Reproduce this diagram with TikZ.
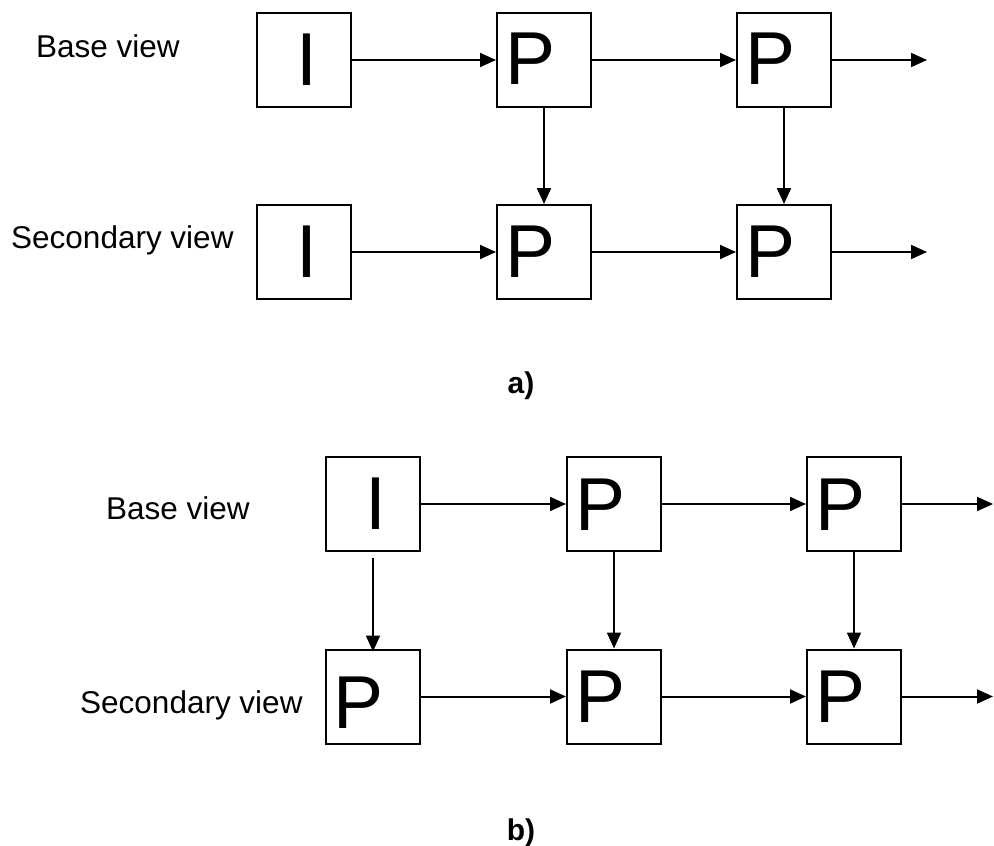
\documentclass[tikz,border=0pt]{standalone}
\usepackage{fontspec}
\setmainfont{Liberation Sans}
\usetikzlibrary{arrows.meta}
\begin{document}
\begin{tikzpicture}[x=1pt,y=-1pt,
  frame/.style={draw=black,line width=2pt,minimum size=94pt,inner sep=0pt,fill=white},
  conn/.style={line width=2pt,-{Triangle[length=16pt,width=14pt]}},
  big/.style={font=\fontsize{75}{75}\selectfont,inner sep=0pt},
  lab/.style={font=\fontsize{31.5}{32}\selectfont,inner sep=0pt,anchor=base west},
  captext/.style={font=\fontsize{30}{30}\selectfont\bfseries,inner sep=0pt,anchor=base}]
\useasboundingbox (0,0) rectangle (994,846);
% ---------- a) ----------
\node[frame] (a11) at (304,60) {};
\node[frame] (a12) at (544,60) {};
\node[frame] (a13) at (784,60) {};
\node[frame] (a21) at (304,252) {};
\node[frame] (a22) at (544,252) {};
\node[frame] (a23) at (784,252) {};
\node[big,anchor=base] (ta11) at ([shift={(2.5,25)}]a11.center) {I};
\node[big,anchor=base west] (ta12) at ([shift={(-39,24.5)}]a12.center) {P};
\node[big,anchor=base west] (ta13) at ([shift={(-39,24.5)}]a13.center) {P};
\node[big,anchor=base] (ta21) at ([shift={(2.5,25)}]a21.center) {I};
\node[big,anchor=base west] (ta22) at ([shift={(-39,25)}]a22.center) {P};
\node[big,anchor=base west] (ta23) at ([shift={(-39,25)}]a23.center) {P};
\coordinate (ao1) at (927,60);
\coordinate (ao2) at (927,252);
\draw[conn] (a11.east) -- (a12.west);
\draw[conn] (a12.east) -- (a13.west);
\draw[conn] (a13.east) -- (ao1);
\draw[conn] (a21.east) -- (a22.west);
\draw[conn] (a22.east) -- (a23.west);
\draw[conn] (a23.east) -- (ao2);
\draw[conn] (a12.south) -- (a22.north);
\draw[conn] (a13.south) -- (a23.north);
\node[lab] (la1) at (36,57) {Base view};
\node[lab] (la2) at (11,248) {Secondary view};
\node[captext] (capa) at (521,393) {a)};
% ---------- b) ----------
\node[frame] (b11) at (373,504) {};
\node[frame] (b12) at (614,504) {};
\node[frame] (b13) at (854,504) {};
\node[frame] (b21) at (373,696.5) {};
\node[frame] (b22) at (614,696.5) {};
\node[frame] (b23) at (854,696.5) {};
\node[big,anchor=base] (tb11) at ([shift={(3,25)}]b11.center) {I};
\node[big,anchor=base west] (tb12) at ([shift={(-39,26)}]b12.center) {P};
\node[big,anchor=base west] (tb13) at ([shift={(-39,26)}]b13.center) {P};
\node[big,anchor=base west] (tb21) at ([shift={(-40,31.5)}]b21.center) {P};
\node[big,anchor=base west] (tb22) at ([shift={(-39,26)}]b22.center) {P};
\node[big,anchor=base west] (tb23) at ([shift={(-39,26)}]b23.center) {P};
\coordinate (bo1) at (993,504);
\coordinate (bo2) at (993,696.5);
\draw[conn] (b11.east) -- (b12.west);
\draw[conn] (b12.east) -- (b13.west);
\draw[conn] (b13.east) -- (bo1);
\draw[conn] (b21.east) -- (b22.west);
\draw[conn] (b22.east) -- (b23.west);
\draw[conn] (b23.east) -- (bo2);
\draw[conn] ([yshift=-6pt]b11.south) -- ([yshift=-3pt]b21.north);
\draw[conn] (b12.south) -- (b22.north);
\draw[conn] (b13.south) -- (b23.north);
\node[lab] (lb1) at (106,519) {Base view};
\node[lab] (lb2) at (80,713) {Secondary view};
\node[captext] (capb) at (521,840) {b)};
\end{tikzpicture}
\end{document}
